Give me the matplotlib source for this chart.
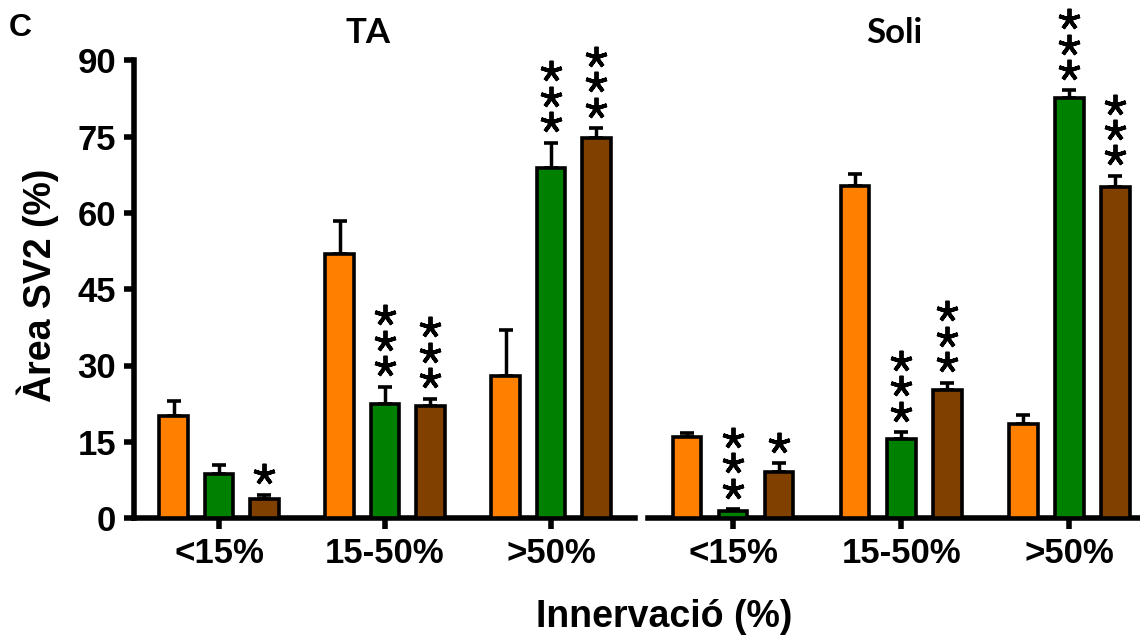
import matplotlib
matplotlib.use("Agg")
import matplotlib.pyplot as plt
from matplotlib.transforms import offset_copy, blended_transform_factory
import numpy as np

# ---- data -------------------------------------------------------------
categories = ["<15%", "15-50%", ">50%"]
y_ticks = [0, 15, 30, 45, 60, 75, 90]

ta_orange = [20.0, 52.0, 28.0]
ta_orange_err = [3.0, 6.5, 8.9]
ta_green = [8.7, 22.5, 68.9]
ta_green_err = [1.8, 3.3, 4.9]
ta_brown = [3.8, 22.0, 74.7]
ta_brown_err = [0.8, 1.5, 2.0]

soli_orange = [15.9, 65.4, 18.4]
soli_orange_err = [0.9, 2.3, 1.8]
soli_green = [1.3, 15.5, 82.6]
soli_green_err = [0.4, 1.4, 1.5]
soli_brown = [9.0, 25.2, 65.2]
soli_brown_err = [1.8, 1.4, 2.1]

# number of significance asterisks above each bar
ta_green_stars = [0, 3, 3]
ta_brown_stars = [1, 3, 3]
soli_green_stars = [3, 3, 3]
soli_brown_stars = [1, 3, 3]

# ---- style ------------------------------------------------------------
ORANGE = "#FF8000"
GREEN = "#008000"
BROWN = "#804000"
TICK_FONT = dict(family=["Liberation Sans", "DejaVu Sans"], weight="bold")
TITLE_FONT = dict(family=["Lato", "DejaVu Sans"], weight="bold")

W, H = 1140, 642
fig = plt.figure(figsize=(W / 100, H / 100), dpi=100)

bottom = 1 - 518 / H
height = (518 - 60.5) / H

ax_ta = fig.add_axes([134 / W, bottom, (635 - 134) / W, height])
ax_so = fig.add_axes([648 / W, bottom, (W - 648) / W, height])

OFFSET = 0.274
WIDTH = 0.17
SPINE_LW = 4.0


def draw_panel(ax, series, errs, stars, title, title_x):
    x = np.arange(len(categories))
    colors = [ORANGE, GREEN, BROWN]
    for i, (vals, err, col) in enumerate(zip(series, errs, colors)):
        xs = x + (i - 1) * OFFSET
        ax.errorbar(xs, vals, yerr=[np.zeros(len(vals)), err], fmt="none",
                    ecolor="black", elinewidth=2.5, capsize=5, capthick=2.6,
                    zorder=2, clip_on=False)
        ax.bar(xs, vals, width=WIDTH, color=col, edgecolor="black",
               linewidth=2.6, zorder=3)
        if stars[i] is not None:
            for xi, v, e, n in zip(xs, vals, err, stars[i]):
                for k in range(n):
                    tr = offset_copy(ax.transData, fig=fig, x=0,
                                     y=14.8 + 18.3 * k, units="points")
                    ax.plot([xi], [v + e], transform=tr, marker=(5, 2, 0),
                            ms=15.5, mew=2.8, color="black", ls="none",
                            clip_on=False, zorder=4)
    ax.set_ylim(0, 90)
    ax.set_xticks(x)
    ax.set_xticklabels(categories, fontsize=25, **TICK_FONT)
    ax.tick_params(axis="x", length=8, width=SPINE_LW, pad=6)
    for s in ["top", "right"]:
        ax.spines[s].set_visible(False)
    ax.spines["bottom"].set_linewidth(SPINE_LW)
    ax.spines["left"].set_linewidth(SPINE_LW)
    tr = blended_transform_factory(ax.transData, fig.transFigure)
    ax.text(title_x, 1 - 43 / H, title, transform=tr, ha="center",
            va="baseline", fontsize=25, **TITLE_FONT)


draw_panel(ax_ta, [ta_orange, ta_green, ta_brown],
           [ta_orange_err, ta_green_err, ta_brown_err],
           [None, ta_green_stars, ta_brown_stars], "TA", 0.895)
draw_panel(ax_so, [soli_orange, soli_green, soli_brown],
           [soli_orange_err, soli_green_err, soli_brown_err],
           [None, soli_green_stars, soli_brown_stars], "Soli", 0.96)

ax_ta.set_xlim(-0.512, 2.506)
ax_so.set_xlim(-0.506, 2.42)

ax_ta.set_yticks(y_ticks)
ax_ta.set_yticklabels([str(t) for t in y_ticks], fontsize=25, **TICK_FONT)
ax_ta.tick_params(axis="y", length=7, width=SPINE_LW, pad=6)

ax_so.spines["left"].set_visible(False)
ax_so.set_yticks([])

fig.text(38 / W, 1 - 285.5 / H, "Àrea SV2 (%)", rotation=90, ha="center",
         va="center", fontsize=27, **TICK_FONT)
fig.text(664 / W, 1 - 627 / H, "Innervació (%)", ha="center",
         va="baseline", fontsize=27, **TICK_FONT)
fig.text(9 / W, 1 - 36 / H, "C", ha="left", va="baseline", fontsize=23,
         **TICK_FONT)

fig.savefig("out.png", dpi=100)
